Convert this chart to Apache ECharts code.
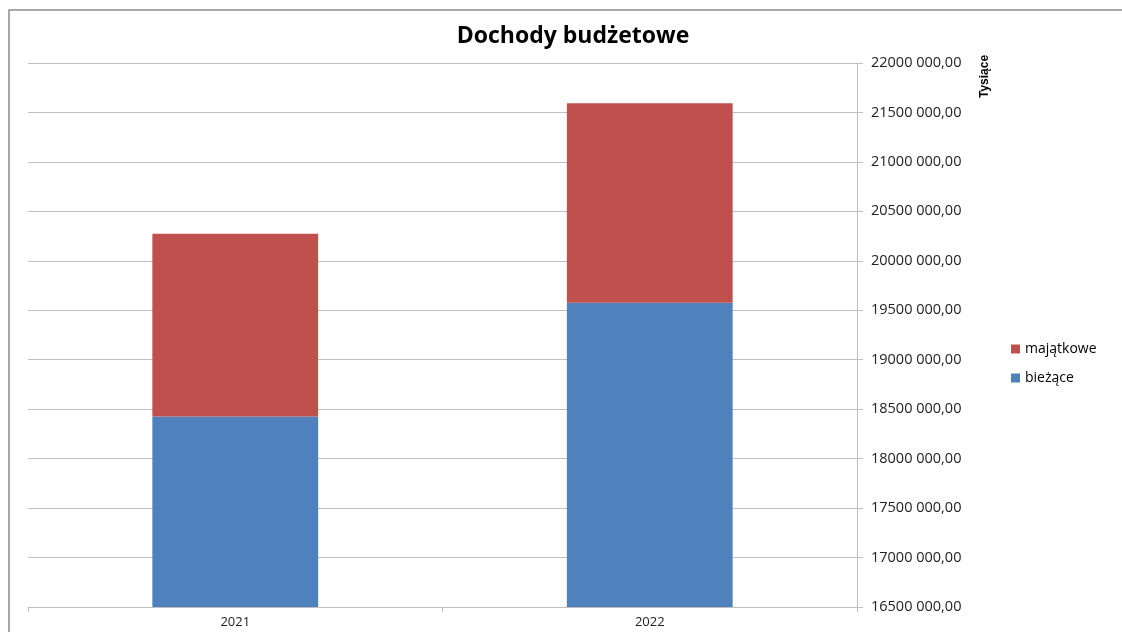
<!DOCTYPE html>
<html>
<head>
<meta charset="utf-8">
<script src="https://cdn.jsdelivr.net/npm/echarts@6/dist/echarts.min.js"></script>
<style>
  html, body { margin: 0; padding: 0; background: #fff; }
  #chart { width: 1122px; height: 632px; }
</style>
</head>
<body>
<div id="chart"></div>
<script>
  // dane
  const years = ['2021', '2022']
  const biezace = [18427000, 19575000]
  const majatkowe = [1847000, 2018000]
  const yMin = 16500000
  const yMax = 22000000
  const yStep = 500000

  // format jak w Excelu: "22000 000,00"
  function fmt(v) {
    const a = Math.floor(v / 1000)
    const b = String(Math.round(v % 1000)).padStart(3, '0')
    return a + ' ' + b + ',00'
  }

  const chart = echarts.init(document.getElementById('chart'))
  chart.setOption({
    animation: false,
    textStyle: { fontFamily: 'Open Sans' },
    title: {
      text: 'Dochody budżetowe',
      left: 568,
      textAlign: 'center',
      top: 20,
      textStyle: { fontSize: 23, fontWeight: 'bold', color: '#000', fontFamily: 'Open Sans' }
    },
    graphic: [
      { // ramka wykresu
        type: 'rect',
        shape: { x: 9, y: 10, width: 1200, height: 700 },
        style: { fill: 'none', stroke: '#8c8c8c', lineWidth: 1.5 },
        silent: true
      },
      {
        type: 'text',
        x: 979,
        y: 98,
        rotation: Math.PI / 2,
        style: { text: 'Tysiące', fontSize: 12, fontWeight: 'bold', fill: '#000', fontFamily: 'Liberation Sans Narrow, Liberation Sans' }
      }
    ],
    legend: {
      orient: 'vertical',
      left: 1006,
      top: 337,
      itemWidth: 9,
      itemHeight: 9,
      itemGap: 15,
      icon: 'rect',
      data: ['majątkowe', 'bieżące'],
      textStyle: { fontSize: 14, color: '#000' }
    },
    grid: { left: 28, right: 265, top: 63, bottom: 25 },
    xAxis: {
      type: 'category',
      data: years,
      axisLine: { lineStyle: { color: '#bfbfbf' } },
      axisTick: { show: true, length: 5, lineStyle: { color: '#bfbfbf' } },
      axisLabel: { fontSize: 13, color: '#222', margin: 9 }
    },
    yAxis: {
      type: 'value',
      position: 'right',
      min: yMin,
      max: yMax,
      interval: yStep,
      axisLine: { show: true, lineStyle: { color: '#bfbfbf' } },
      axisTick: { show: true, length: 6, lineStyle: { color: '#bfbfbf' } },
      splitLine: { lineStyle: { color: '#bfbfbf' } },
      axisLabel: { fontSize: 14.5, color: '#222', margin: 14, formatter: fmt }
    },
    series: [
      {
        name: 'bieżące',
        type: 'bar',
        stack: 'dochody',
        barWidth: '40%',
        data: biezace,
        itemStyle: { color: '#4F81BD' }
      },
      {
        name: 'majątkowe',
        type: 'bar',
        stack: 'dochody',
        barWidth: '40%',
        data: majatkowe,
        itemStyle: { color: '#C0504D' }
      }
    ]
  })
</script>
</body>
</html>
